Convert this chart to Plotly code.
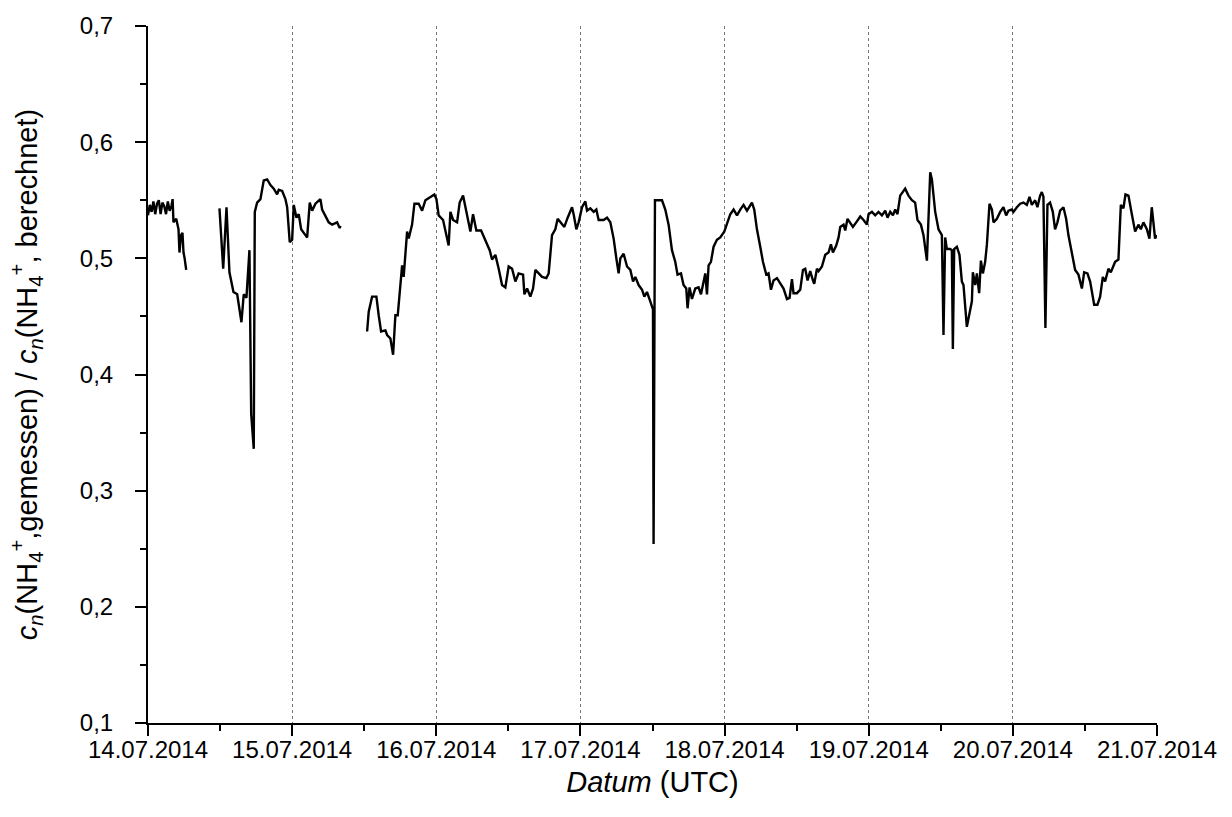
import pandas as pd
import plotly.graph_objects as go

# Ratio of measured to calculated NH4+ number concentration, 14.07.-21.07.2014.
# Times are hours after 14.07.2014 00:00 UTC; the series has three measurement blocks.
START = "2014-07-14 00:00"

seg1_hours = [0.0, 0.3, 0.6, 0.9, 1.2, 1.5, 1.8, 2.1, 2.4, 2.7, 3.0, 3.3, 3.6, 3.9,
              4.1, 4.24, 4.7, 5.08, 5.24, 5.5, 5.74, 5.91, 6.1, 6.36]
seg1_ratio = [0.537, 0.546, 0.540, 0.549, 0.538, 0.547, 0.550, 0.538, 0.548, 0.545,
              0.538, 0.549, 0.541, 0.545, 0.551, 0.531, 0.534, 0.525, 0.505, 0.520,
              0.522, 0.505, 0.500, 0.490]

seg2_hours = [11.90, 12.52, 13.07, 13.56, 14.23, 14.85, 15.56, 15.94, 16.39, 16.89,
              17.18, 17.61, 17.78, 18.17, 18.72, 19.27, 19.84, 20.39, 20.94, 21.50,
              21.77, 22.34, 22.88, 23.17, 23.60, 24.00, 24.27, 24.72, 25.10, 25.50,
              26.21, 26.50, 26.93, 27.33, 27.88, 28.71, 28.99, 29.54, 30.09, 30.66,
              31.49, 31.92, 32.04]
seg2_ratio = [0.543, 0.491, 0.544, 0.488, 0.471, 0.469, 0.445, 0.469, 0.466, 0.507,
              0.366, 0.336, 0.540, 0.548, 0.551, 0.567, 0.568, 0.563, 0.560, 0.555,
              0.559, 0.558, 0.551, 0.544, 0.514, 0.516, 0.546, 0.535, 0.538, 0.525,
              0.520, 0.518, 0.548, 0.541, 0.547, 0.551, 0.542, 0.537, 0.531, 0.529,
              0.531, 0.526, 0.528]

seg3_hours = [
    36.48, 36.75, 37.31, 38.03, 38.41, 38.81, 39.53, 39.81, 40.36, 40.81,
    41.19, 41.58, 42.31, 42.57, 43.14, 43.41, 43.97, 44.36, 45.07, 45.64,
    46.19, 47.02, 47.68, 48.02, 48.40, 49.13, 49.68, 50.06, 50.35, 50.80,
    51.46, 51.89, 52.46, 53.01, 53.68, 54.12, 54.67, 55.46, 56.17, 56.89,
    57.29, 57.84, 58.39, 58.95, 59.50, 60.05, 60.62, 61.17, 61.71, 62.45,
    62.67, 63.12, 63.66, 64.11, 64.50, 65.05, 65.61, 66.33, 66.71, 67.27,
    67.82, 68.21, 68.94, 69.32, 69.87, 70.60, 70.87, 71.32, 71.70, 72.27,
    72.82, 73.10, 73.65, 74.20, 74.65, 75.03, 75.86, 76.43, 76.98, 77.53,
    77.98, 78.36, 78.64, 79.19, 79.76, 80.31, 80.76, 81.14, 81.69, 82.26,
    82.64, 83.08, 83.63, 84.08, 84.18, 84.41, 85.58, 86.13, 86.68, 87.24,
    87.79, 88.17, 88.74, 89.17, 89.62, 89.84, 90.17, 90.57, 91.12, 91.67,
    92.07, 92.40, 92.79, 93.07, 93.34, 93.73, 94.17, 94.73, 95.28, 95.95,
    96.50, 96.95, 97.50, 98.07, 98.61, 99.16, 99.73, 100.28, 100.56, 100.94,
    101.39, 101.94, 102.39, 102.94, 103.32, 103.72, 104.15, 104.72, 105.27, 105.82,
    106.39, 106.82, 107.22, 107.48, 108.05, 108.60, 109.05, 109.43, 109.82, 110.26,
    110.71, 110.93, 111.38, 111.65, 112.21, 112.76, 113.31, 113.71, 114.04, 114.59,
    114.98, 115.26, 115.81, 116.09, 116.47, 116.92, 117.37, 117.92, 118.59, 119.14,
    119.70, 119.97, 120.53, 121.08, 121.63, 122.20, 122.75, 123.13, 123.58, 124.03,
    124.41, 124.79, 125.24, 126.07, 126.62, 127.19, 127.73, 128.12, 128.69, 129.12,
    129.69, 130.24, 130.52, 131.07, 131.62, 132.18, 132.45, 132.73, 133.01, 133.56,
    133.84, 134.01, 134.23, 134.68, 135.11, 135.51, 135.78, 136.34, 136.78, 137.18,
    137.34, 137.73, 138.01, 138.39, 138.68, 139.01, 139.39, 139.68, 140.11, 140.51,
    140.78, 141.34, 141.89, 142.43, 142.88, 143.27, 143.83, 144.10, 144.67, 145.22,
    145.76, 146.33, 146.77, 147.16, 147.71, 148.09, 148.54, 148.82, 149.09, 149.42,
    149.76, 150.20, 150.65, 151.03, 151.42, 151.87, 152.42, 152.87, 153.25, 153.82,
    154.37, 154.92, 155.49, 155.87, 156.42, 156.87, 157.54, 158.08, 158.53, 158.98,
    159.36, 159.91, 160.31, 161.03, 161.58, 161.98, 162.41, 162.75, 163.25, 163.81,
    164.36, 164.91, 165.31, 165.74, 166.31, 166.74, 167.13, 167.40, 167.68, 167.95,
]
seg3_ratio = [
    0.437, 0.454, 0.467, 0.467, 0.451, 0.437, 0.438, 0.434, 0.431, 0.417,
    0.451, 0.451, 0.494, 0.484, 0.523, 0.517, 0.529, 0.547, 0.547, 0.541,
    0.550, 0.553, 0.555, 0.551, 0.537, 0.533, 0.518, 0.511, 0.540, 0.533,
    0.531, 0.548, 0.554, 0.540, 0.523, 0.538, 0.524, 0.524, 0.515, 0.507,
    0.499, 0.503, 0.491, 0.477, 0.475, 0.493, 0.491, 0.480, 0.487, 0.486,
    0.469, 0.474, 0.467, 0.474, 0.490, 0.487, 0.484, 0.483, 0.487, 0.520,
    0.525, 0.534, 0.529, 0.527, 0.535, 0.544, 0.538, 0.525, 0.531, 0.544,
    0.549, 0.541, 0.543, 0.540, 0.542, 0.533, 0.533, 0.535, 0.531, 0.517,
    0.500, 0.487, 0.500, 0.504, 0.493, 0.490, 0.480, 0.484, 0.477, 0.473,
    0.467, 0.471, 0.463, 0.456, 0.254, 0.550, 0.550, 0.542, 0.529, 0.507,
    0.497, 0.486, 0.487, 0.477, 0.474, 0.457, 0.475, 0.465, 0.474, 0.475,
    0.469, 0.477, 0.487, 0.469, 0.494, 0.497, 0.510, 0.516, 0.518, 0.523,
    0.531, 0.538, 0.542, 0.537, 0.542, 0.546, 0.541, 0.546, 0.548, 0.542,
    0.525, 0.510, 0.497, 0.486, 0.487, 0.473, 0.481, 0.483, 0.478, 0.474,
    0.465, 0.466, 0.482, 0.470, 0.470, 0.473, 0.490, 0.491, 0.481, 0.489,
    0.481, 0.478, 0.491, 0.489, 0.493, 0.503, 0.505, 0.512, 0.505, 0.511,
    0.518, 0.527, 0.529, 0.524, 0.534, 0.531, 0.527, 0.531, 0.536, 0.533,
    0.529, 0.538, 0.540, 0.537, 0.540, 0.537, 0.541, 0.535, 0.540, 0.537,
    0.542, 0.538, 0.554, 0.560, 0.554, 0.550, 0.548, 0.533, 0.529, 0.520,
    0.498, 0.574, 0.568, 0.540, 0.525, 0.520, 0.434, 0.518, 0.508, 0.508,
    0.507, 0.422, 0.508, 0.510, 0.503, 0.480, 0.477, 0.441, 0.451, 0.463,
    0.488, 0.477, 0.487, 0.470, 0.498, 0.487, 0.497, 0.512, 0.547, 0.542,
    0.531, 0.534, 0.540, 0.544, 0.537, 0.541, 0.542, 0.540, 0.544, 0.547,
    0.548, 0.546, 0.553, 0.546, 0.550, 0.544, 0.554, 0.557, 0.553, 0.440,
    0.546, 0.548, 0.540, 0.525, 0.531, 0.541, 0.544, 0.534, 0.520, 0.503,
    0.490, 0.486, 0.474, 0.488, 0.487, 0.480, 0.460, 0.460, 0.467, 0.484,
    0.480, 0.491, 0.488, 0.497, 0.499, 0.546, 0.543, 0.555, 0.554, 0.538,
    0.523, 0.529, 0.525, 0.531, 0.525, 0.517, 0.544, 0.531, 0.517, 0.520,
]

segments = [(seg1_hours, seg1_ratio), (seg2_hours, seg2_ratio), (seg3_hours, seg3_ratio)]

# Join the blocks with None so that the line breaks across measurement gaps
t0 = pd.Timestamp(START)
xs, ys = [], []
for hours, ratio in segments:
    if xs:
        xs.append(None)
        ys.append(None)
    xs.extend(t0 + pd.to_timedelta(hours, unit="h"))
    ys.extend(ratio)

FONT = "Liberation Sans, Arial, sans-serif"

fig = go.Figure(
    go.Scatter(
        x=xs, y=ys, mode="lines",
        line=dict(color="black", width=2.4),
        connectgaps=False, showlegend=False,
    )
)

fig.update_layout(
    width=1232, height=817,
    margin=dict(l=148, r=75, t=23, b=94),
    paper_bgcolor="white", plot_bgcolor="white",
    separators=", ",
    font=dict(family=FONT, color="black", size=24),
)

fig.update_xaxes(
    range=[pd.Timestamp("2014-07-14"), pd.Timestamp("2014-07-21")],
    tickformat="%d.%m.%Y", dtick=86400000, tick0="2014-07-14",
    ticks="outside", ticklen=11, tickwidth=2, tickcolor="black",
    minor=dict(ticks="outside", dtick=43200000, ticklen=6, tickwidth=2,
               tickcolor="black", showgrid=False),
    showline=True, linecolor="black", linewidth=2,
    showgrid=True, gridcolor="#777777", gridwidth=1, griddash="dot",
    zeroline=False,
    tickfont=dict(size=24), ticklabelstandoff=-7,
    title=dict(text="<i>Datum</i> (UTC)", font=dict(size=29), standoff=10),
)

fig.update_yaxes(
    range=[0.1, 0.7], dtick=0.1, tick0=0.1, tickformat=".1f",
    ticks="outside", ticklen=11, tickwidth=2, tickcolor="black",
    minor=dict(ticks="outside", dtick=0.05, ticklen=6, tickwidth=2,
               tickcolor="black", showgrid=False),
    showline=True, linecolor="black", linewidth=2,
    showgrid=False, zeroline=False,
    tickfont=dict(size=24), ticklabelstandoff=17,
    title=dict(
        text="<i>c</i><sub><i>n</i></sub>(NH<sub>4</sub><sup>+</sup>,gemessen) / "
             "<i>c</i><sub><i>n</i></sub>(NH<sub>4</sub><sup>+</sup>, berechnet)",
        font=dict(size=29), standoff=34,
    ),
)

fig.write_html("out.html")
